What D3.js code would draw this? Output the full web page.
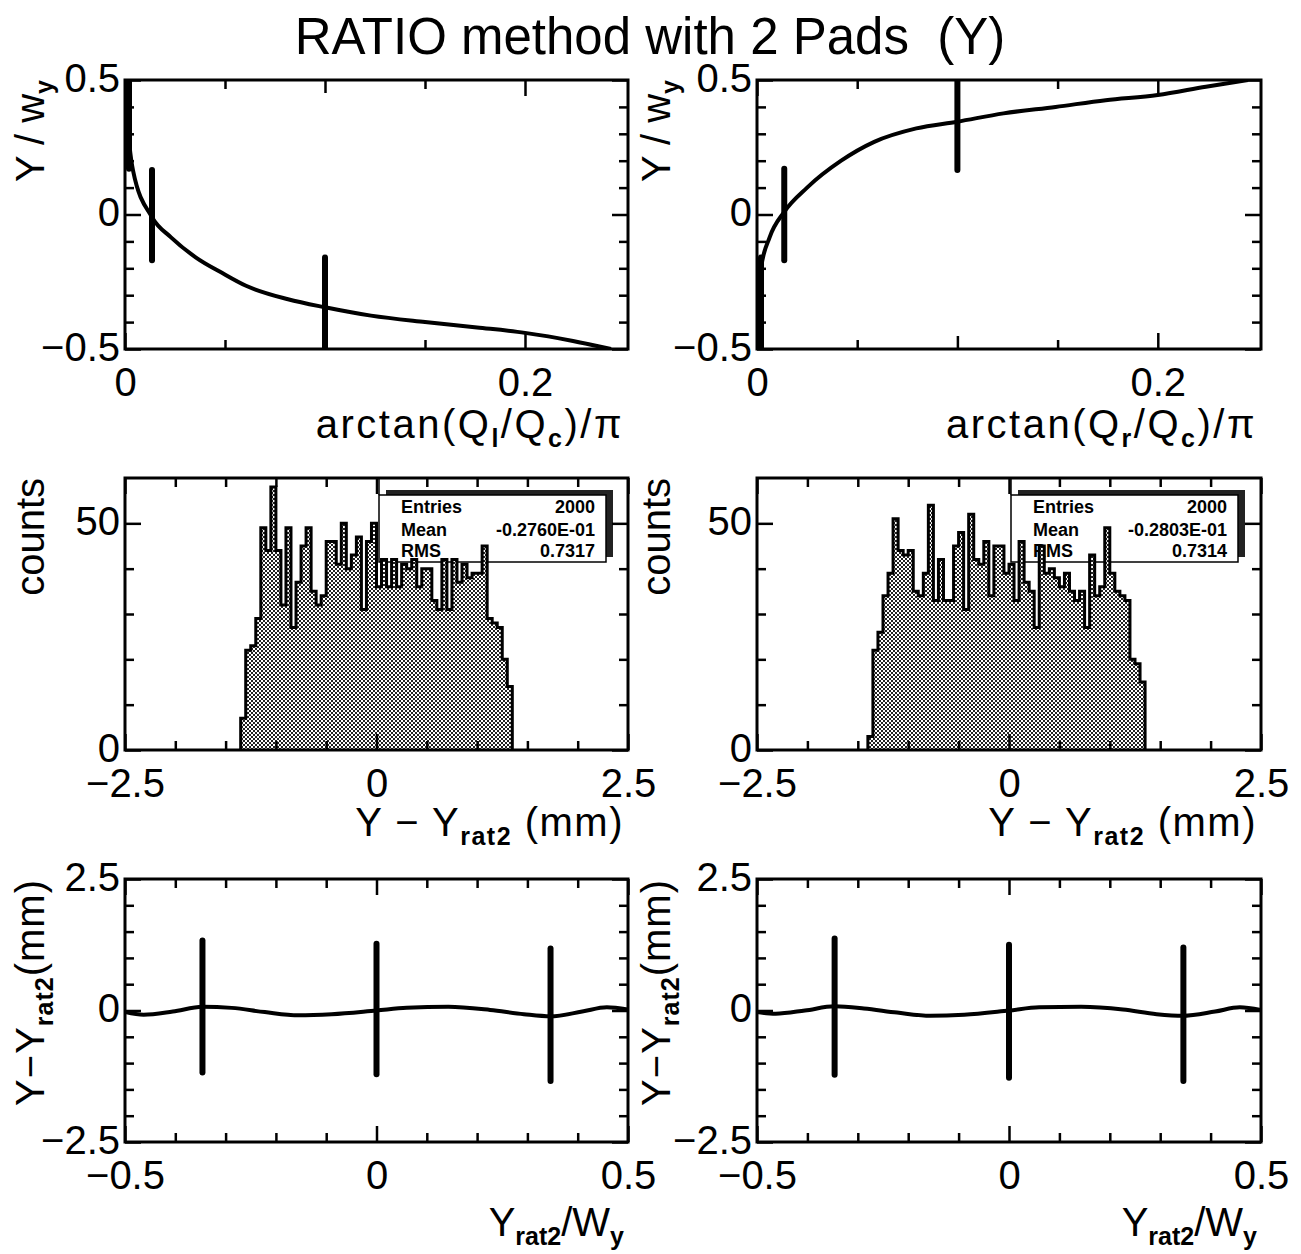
<!DOCTYPE html>
<html>
<head>
<meta charset="utf-8">
<script src="https://cdn.jsdelivr.net/npm/d3@7"></script>
<style>body { margin: 0; background: #fff; }</style>
</head>
<body>
<svg id="chart" width="1301" height="1254"></svg>
<script>
const FONT = '"Liberation Sans", Arial, sans-serif';

const chartTitle = 'RATIO method with 2 Pads  (Y)';

// row 1 : Y/w_y against arctan(Q/Qc)/pi
const calLeftX = [0.0005, 0.001, 0.004, 0.0135, 0.023, 0.0355, 0.048, 0.0605, 0.0815, 0.1, 0.123, 0.15, 0.176, 0.2, 0.224, 0.243];
const calLeftY = [0.5, 0.385, 0.164, -0.01, -0.085, -0.16, -0.215, -0.265, -0.315, -0.345, -0.376, -0.4, -0.42, -0.44, -0.47, -0.5];
const calLeftBandX = [0.002, 0.0135, 0.1];
const calLeftBandLo = [0.17, -0.17, -0.5];
const calLeftBandHi = [0.5, 0.165, -0.16];

const calRightX = [0.0005, 0.002, 0.0063, 0.0136, 0.025, 0.042, 0.0585, 0.0795, 0.1, 0.123, 0.149, 0.174, 0.2, 0.224, 0.245];
const calRightY = [-0.5, -0.2, -0.085, 0.01, 0.1, 0.2, 0.27, 0.32, 0.345, 0.376, 0.4, 0.425, 0.444, 0.475, 0.5];
const calRightBandX = [0.002, 0.0136, 0.1];
const calRightBandLo = [-0.5, -0.17, 0.165];
const calRightBandHi = [-0.16, 0.17, 0.5];

// row 2 : histograms of Y - Yrat2
const histBinWidth = 0.05;
const histLeftFirst = -1.35;
const histLeftCounts = [7, 22, 23, 29, 49, 44, 58, 44, 32, 49, 27, 37, 45, 49, 35, 32, 34, 46, 46, 41,
  50, 40, 43, 47, 31, 46, 50, 36, 42, 36, 42, 36, 41, 40, 42, 36, 40, 40, 33, 31,
  42, 31, 42, 37, 41, 38, 39, 39, 45, 29, 28, 27, 20, 14];
const histRightFirst = -1.40;
const histRightCounts = [3, 22, 26, 34, 39, 51, 44, 43, 44, 35, 34, 39, 54, 33, 42, 33, 33, 45, 48, 31,
  52, 42, 41, 46, 34, 45, 45, 39, 41, 33, 46, 37, 35, 27, 45, 39, 40, 38, 36, 39,
  35, 33, 35, 27, 43, 34, 36, 49, 39, 35, 34, 33, 20, 19, 15];
const statNames = ['Entries', 'Mean', 'RMS'];
const statLeftValues = ['2000', '-0.2760E-01', '0.7317'];
const statRightValues = ['2000', '-0.2803E-01', '0.7314'];

// row 3 : residuals against Yrat2/W_y
const resX = [-0.5, -0.463, -0.405, -0.346, -0.288, -0.222, -0.156, -0.089, 0, 0.06, 0.143, 0.226, 0.293, 0.346, 0.409, 0.458, 0.5];
const resLeftY = [-0.03, -0.08, -0.02, 0.07, 0.05, -0.03, -0.09, -0.07, 0, 0.05, 0.07, 0.01, -0.07, -0.11, -0.02, 0.06, 0.02];
const resRightY = [-0.03, -0.06, 0, 0.08, 0.04, -0.04, -0.1, -0.08, 0, 0.06, 0.07, 0.02, -0.07, -0.1, -0.02, 0.06, 0.01];
const resBandX = [-0.346, 0, 0.346];
const resLeftLo = [-1.18, -1.21, -1.34];
const resLeftHi = [1.33, 1.27, 1.18];
const resRightLo = [-1.22, -1.28, -1.34];
const resRightHi = [1.37, 1.25, 1.2];

// ticks and labels
const calXMajor = [0, 0.2];
const calXLabels = ['0', '0.2'];
const calXMid = [0.1];
const calXMinor = [0.05, 0.15];
const calYMajor = [-0.5, 0, 0.5];
const calYLabels = ['\u22120.5', '0', '0.5'];
const calYMinor = [-0.4, -0.3, -0.2, -0.1, 0.1, 0.2, 0.3, 0.4];
const histXMajor = [-2.5, 0, 2.5];
const histXLabels = ['\u22122.5', '0', '2.5'];
const histXMinor = [-2, -1.5, -1, -0.5, 0.5, 1, 1.5, 2];
const histYMajor = [0, 50];
const histYLabels = ['0', '50'];
const histYMinor = [10, 20, 30, 40];
const resXMajor = [-0.5, 0, 0.5];
const resXLabels = ['\u22120.5', '0', '0.5'];
const resXMinor = [-0.4, -0.3, -0.2, -0.1, 0.1, 0.2, 0.3, 0.4];
const resYMajor = [-2.5, 0, 2.5];
const resYLabels = ['\u22122.5', '0', '2.5'];
const resYMinor = [-2, -1.5, -1, -0.5, 0.5, 1, 1.5, 2];

// page layout (pixels)
const colX = [[125, 628], [757, 1261]];
const rowY = [[80, 349], [478, 750], [879, 1142]];

const svg = d3.select('#chart');
svg.append('rect').attr('width', 1301).attr('height', 1254).attr('fill', '#fff');
const defs = svg.append('defs');

// halftone grey used by the histograms
const pat = defs.append('pattern').attr('id', 'halftone')
    .attr('width', 4).attr('height', 4).attr('patternUnits', 'userSpaceOnUse');
pat.append('rect').attr('width', 4).attr('height', 4).attr('fill', '#fff');
pat.append('rect').attr('width', 2).attr('height', 2).attr('fill', '#222');
pat.append('rect').attr('x', 2).attr('y', 2).attr('width', 2).attr('height', 2).attr('fill', '#222');

svg.append('text')
    .attr('x', 650).attr('y', 54)
    .attr('text-anchor', 'middle')
    .attr('font-family', FONT).attr('font-size', 51)
    .style('white-space', 'pre')
    .text(chartTitle);

function makePanel (col, row, xDomain, yDomain) {
    const [x0, x1] = colX[col];
    const [y0, y1] = rowY[row];
    const w = x1 - x0, h = y1 - y0;
    const x = d3.scaleLinear().domain(xDomain).range([0, w]);
    const y = d3.scaleLinear().domain(yDomain).range([h, 0]);
    const g = svg.append('g').attr('transform', `translate(${x0},${y0})`);
    const id = `clip${col}${row}`;
    defs.append('clipPath').attr('id', id).append('rect').attr('width', w).attr('height', h);
    const under = g.append('g');
    const plot = g.append('g').attr('clip-path', `url(#${id})`);
    return { g, under, plot, x, y, w, h, col, row };
}

function tickAxis (g, axis, transform, values, len, labels, pad, dy) {
    axis.tickValues(values).tickSize(-len).tickPadding(pad || 0)
        .tickFormat(labels ? (d, i) => labels[i] : () => '');
    const ag = g.append('g').attr('transform', transform).call(axis);
    ag.select('.domain').remove();
    ag.selectAll('line').attr('stroke', '#000').attr('stroke-width', 2.5);
    ag.selectAll('text').attr('font-family', FONT).attr('font-size', 40).attr('fill', '#000');
    if (dy) ag.selectAll('text').attr('dy', dy);
    ag.attr('font-family', null).attr('font-size', null);
    return ag;
}

function drawAxes (p, t) {
    const bottom = `translate(0,${p.h})`, right = `translate(${p.w},0)`;
    tickAxis(p.g, d3.axisBottom(p.x), bottom, t.xMinor, 9);
    tickAxis(p.g, d3.axisTop(p.x), 'translate(0,0)', t.xMinor, 9);
    if (t.xMid) {
        tickAxis(p.g, d3.axisBottom(p.x), bottom, t.xMid, 13);
        tickAxis(p.g, d3.axisTop(p.x), 'translate(0,0)', t.xMid, 13);
    }
    tickAxis(p.g, d3.axisBottom(p.x), bottom, t.xMajor, 16, t.xLabels, 19);
    tickAxis(p.g, d3.axisTop(p.x), 'translate(0,0)', t.xMajor, 16);
    tickAxis(p.g, d3.axisLeft(p.y), 'translate(0,0)', t.yMinor, 9);
    tickAxis(p.g, d3.axisRight(p.y), right, t.yMinor, 9);
    tickAxis(p.g, d3.axisLeft(p.y), 'translate(0,0)', t.yMajor, 16, t.yLabels, 5, '0.28em');
    tickAxis(p.g, d3.axisRight(p.y), right, t.yMajor, 16);
    p.g.append('rect').attr('width', p.w).attr('height', p.h)
        .attr('fill', 'none').attr('stroke', '#000').attr('stroke-width', 3);
}

// text with subscripts, parts = [[string, isSub], ...]
function richText (sel, parts) {
    let low = false;
    parts.forEach(([s, sub]) => {
        const ts = sel.append('tspan').text(s);
        if (sub) {
            ts.attr('font-size', 25).attr('font-weight', 'bold');
            if (!low) ts.attr('dy', 9);
            low = true;
        } else {
            if (low) ts.attr('dy', -9);
            low = false;
        }
    });
}

const xTitleBase = [438, 836, 1236];
function xTitle (p, parts, spacing) {
    const t = p.g.append('text')
        .attr('x', p.w - 4).attr('y', xTitleBase[p.row] - rowY[p.row][0])
        .attr('text-anchor', 'end')
        .attr('letter-spacing', spacing || 0)
        .attr('font-family', FONT).attr('font-size', 40);
    richText(t, parts);
}
function yTitle (p, parts, spacing) {
    const bx = p.col === 0 ? 44 : 670;
    const t = p.g.append('text')
        .attr('transform', `translate(${bx - colX[p.col][0]},0) rotate(-90)`)
        .attr('text-anchor', 'end')
        .attr('letter-spacing', spacing || 0)
        .attr('font-family', FONT).attr('font-size', 40);
    richText(t, parts);
}

function drawCurve (p, xs, ys) {
    const line = d3.line().x(d => p.x(d[0])).y(d => p.y(d[1])).curve(d3.curveMonotoneX);
    p.plot.append('path')
        .attr('d', line(xs.map((v, i) => [v, ys[i]])))
        .attr('fill', 'none').attr('stroke', '#000').attr('stroke-width', 4);
}

function drawBands (p, xs, lo, hi) {
    p.plot.selectAll(null)
        .data(xs.map((v, i) => [v, lo[i], hi[i]]))
        .join('line')
        .attr('x1', d => p.x(d[0])).attr('x2', d => p.x(d[0]))
        .attr('y1', d => p.y(d[1])).attr('y2', d => p.y(d[2]))
        .attr('stroke', '#000').attr('stroke-width', 6).attr('stroke-linecap', 'round');
}

function drawStats (p, values) {
    const bx = 254, by = 17, bw = 227, bh = 67;
    p.under.append('line')
        .attr('x1', bx).attr('x2', bx).attr('y1', 0).attr('y2', by)
        .attr('stroke', '#000').attr('stroke-width', 1.5);
    p.under.append('rect')
        .attr('x', bx + 7).attr('y', by - 5).attr('width', bw).attr('height', bh)
        .attr('fill', '#222');
    p.under.append('rect')
        .attr('x', bx).attr('y', by).attr('width', bw).attr('height', bh)
        .attr('fill', '#fff').attr('stroke', '#000').attr('stroke-width', 1.5);
    const rows = [18, 41, 62];
    statNames.forEach((name, i) => {
        p.under.append('text')
            .attr('x', bx + 22).attr('y', by + rows[i])
            .attr('font-family', FONT).attr('font-size', 18).attr('font-weight', 'bold')
            .text(name);
        p.under.append('text')
            .attr('x', bx + bw - 11).attr('y', by + rows[i])
            .attr('text-anchor', 'end')
            .attr('font-family', FONT).attr('font-size', 18).attr('font-weight', 'bold')
            .text(values[i]);
    });
}

function drawHist (p, first, counts) {
    const n = counts.length;
    const pts = [[first, 0]];
    counts.forEach((c, i) => pts.push([first + i * histBinWidth, c]));
    pts.push([first + n * histBinWidth, 0]);
    const area = d3.area().x(d => p.x(d[0])).y0(p.y(0)).y1(d => p.y(d[1])).curve(d3.curveStepAfter);
    const line = d3.line().x(d => p.x(d[0])).y(d => p.y(d[1])).curve(d3.curveStepAfter);
    p.plot.append('path').attr('d', area(pts)).attr('fill', 'url(#halftone)');
    p.plot.append('path').attr('d', line(pts))
        .attr('fill', 'none').attr('stroke', '#000').attr('stroke-width', 3);
}

const calTicks = { xMajor: calXMajor, xLabels: calXLabels, xMid: calXMid, xMinor: calXMinor,
    yMajor: calYMajor, yLabels: calYLabels, yMinor: calYMinor };
const histTicks = { xMajor: histXMajor, xLabels: histXLabels, xMinor: histXMinor,
    yMajor: histYMajor, yLabels: histYLabels, yMinor: histYMinor };
const resTicks = { xMajor: resXMajor, xLabels: resXLabels, xMinor: resXMinor,
    yMajor: resYMajor, yLabels: resYLabels, yMinor: resYMinor };

// row 1
const p1 = makePanel(0, 0, [0, 0.2515], [-0.5, 0.5]);
drawCurve(p1, calLeftX, calLeftY);
drawBands(p1, calLeftBandX, calLeftBandLo, calLeftBandHi);
drawAxes(p1, calTicks);
xTitle(p1, [['arctan(Q'], ['l', true], ['/Q'], ['c', true], [')/\u03c0']], 2.5);
yTitle(p1, [['Y / w'], ['y', true]]);

const p2 = makePanel(1, 0, [0, 0.2515], [-0.5, 0.5]);
drawCurve(p2, calRightX, calRightY);
drawBands(p2, calRightBandX, calRightBandLo, calRightBandHi);
drawAxes(p2, calTicks);
xTitle(p2, [['arctan(Q'], ['r', true], ['/Q'], ['c', true], [')/\u03c0']], 2.5);
yTitle(p2, [['Y / w'], ['y', true]]);

// row 2
const p3 = makePanel(0, 1, [-2.5, 2.5], [0, 60]);
drawStats(p3, statLeftValues);
drawHist(p3, histLeftFirst, histLeftCounts);
drawAxes(p3, histTicks);
xTitle(p3, [['Y \u2212 Y'], ['rat2', true], [' (mm)']], 1.5);
yTitle(p3, [['counts']]);

const p4 = makePanel(1, 1, [-2.5, 2.5], [0, 60]);
drawStats(p4, statRightValues);
drawHist(p4, histRightFirst, histRightCounts);
drawAxes(p4, histTicks);
xTitle(p4, [['Y \u2212 Y'], ['rat2', true], [' (mm)']], 1.5);
yTitle(p4, [['counts']]);

// row 3
const p5 = makePanel(0, 2, [-0.5, 0.5], [-2.5, 2.5]);
drawCurve(p5, resX, resLeftY);
drawBands(p5, resBandX, resLeftLo, resLeftHi);
drawAxes(p5, resTicks);
xTitle(p5, [['Y'], ['rat2', true], ['/W'], ['y', true]]);
yTitle(p5, [['Y\u2212Y'], ['rat2', true], ['(mm)']], 1);

const p6 = makePanel(1, 2, [-0.5, 0.5], [-2.5, 2.5]);
drawCurve(p6, resX, resRightY);
drawBands(p6, resBandX, resRightLo, resRightHi);
drawAxes(p6, resTicks);
xTitle(p6, [['Y'], ['rat2', true], ['/W'], ['y', true]]);
yTitle(p6, [['Y\u2212Y'], ['rat2', true], ['(mm)']], 1);
</script>
</body>
</html>
